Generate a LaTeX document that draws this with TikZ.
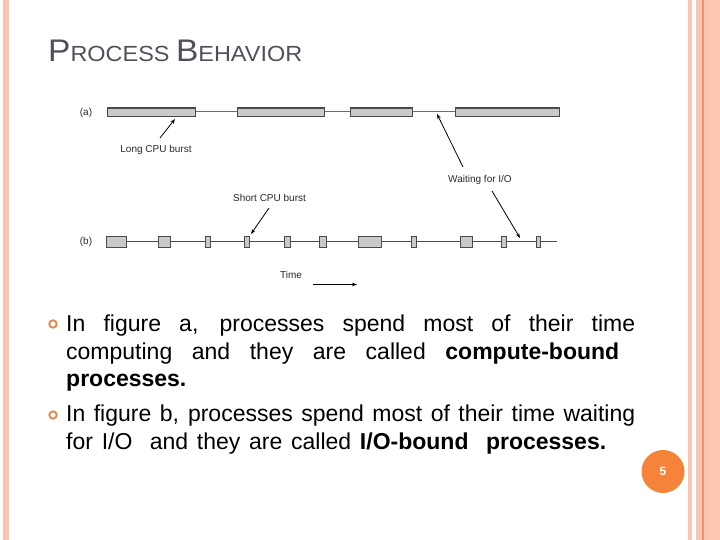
\documentclass[tikz,border=0pt]{standalone}
\usepackage{fontspec}
\setmainfont{Liberation Sans}
\usetikzlibrary{arrows.meta}
\definecolor{pinkb}{HTML}{F8C5B3}
\definecolor{pinkr}{HTML}{FCC6B2}
\definecolor{orangeline}{HTML}{EC9163}
\definecolor{orangec}{HTML}{F5843A}
\definecolor{titlec}{HTML}{4C515B}
\definecolor{bulletc}{HTML}{E38A4C}
\definecolor{barfill}{HTML}{C9C9C9}
\definecolor{bardraw}{HTML}{4A4A4A}
\definecolor{figtext}{HTML}{2A2A2A}
\tikzset{
  figlabel/.style={inner sep=0pt, text=figtext, font=\fontsize{10}{12}\selectfont},
  bodyline/.style={anchor=base west, inner sep=0pt, font=\fontsize{23}{27}\selectfont, text=black},
  burst/.style={fill=barfill, draw=bardraw, line width=0.6pt},
  pointer/.style={draw=black, line width=0.8pt, -{Stealth[length=5pt,width=3.6pt]}},
  bulletring/.style={draw=bulletc, line width=1.9pt},
}
\begin{document}
\begin{tikzpicture}[x=1pt,y=-1pt]
\useasboundingbox (0,0) rectangle (720,540);
\fill[white] (0,0) rectangle (720,540);
% borders
\fill[pinkb] (3,0) rectangle (8.5,540);
\fill[pinkb] (688,0) rectangle (692,540);
\fill[pinkb] (696,0) rectangle (702,540);
\fill[orangeline] (702,0) rectangle (703.5,540);
\fill[pinkb] (703.5,0) rectangle (708,540);
\fill[pinkr] (708,0) rectangle (720,540);

% title
\node[anchor=base west, inner sep=0pt, text=titlec] (title) at (48,62)
  {\resizebox{254pt}{21.5pt}{\fontsize{30}{30}\selectfont P\fontsize{21}{21}\selectfont ROCESS \fontsize{30}{30}\selectfont B\fontsize{21}{21}\selectfont EHAVIOR}};

% ---------- figure (a)
\node[figlabel] (la) at (86,113) {(a)};
\draw[bardraw!80, line width=0.7pt] (195,111) -- (455,111);
\foreach \xa/\xb in {107.7/195, 237.3/324.3, 350.7/412.3, 455/559.3}{
  \draw[burst] (\xa,107.5) rectangle (\xb,116.5);
  \draw[bardraw, line width=1.6pt] (\xa,107.8) -- (\xb,107.8);
}
\node[figlabel] (long) at (156,150) {Long CPU burst};
\coordinate (longtail) at (160,138);
\coordinate (longtip) at (175,119);
\draw[pointer] (longtail) -- (longtip);

\node[figlabel] (wait) at (480,180) {Waiting for I/O};
\coordinate (waittailA) at (463,167);
\coordinate (waittipA) at (437,114);
\coordinate (waittailB) at (492,191);
\coordinate (waittipB) at (520,238);
\draw[pointer] (waittailA) -- (waittipA);
\draw[pointer] (waittailB) -- (waittipB);

% ---------- figure (b)
\node[figlabel] (lb) at (86,241.5) {(b)};
\draw[bardraw, line width=1.2pt] (106.7,241.8) -- (557,241.8);
\foreach \xa/\xb in {106.7/126, 158.3/170.5, 205/210, 244.3/249.3, 284.3/290.7, 319.3/326,
                     358.5/381.7, 411.7/416.3, 460.3/472.5, 500.8/506.7, 536/540.7}{
  \draw[burst] (\xa,236.5) rectangle (\xb,247.2);
}
\node[figlabel] (short) at (269.5,198) {Short CPU burst};
\coordinate (shorttail) at (269,208);
\coordinate (shorttip) at (251,234);
\draw[pointer] (shorttail) -- (shorttip);

\node[figlabel] (time) at (291,275) {Time};
\coordinate (timeA) at (313,284.5);
\coordinate (timeB) at (357,284.5);
\draw[pointer] (timeA) -- (timeB);

% ---------- bullets
\draw[bulletring] (53,324) circle (3.7pt);
\draw[bulletring] (53,415) circle (3.7pt);
\node[bodyline] (l1) at (66,331.5) {\makebox[569pt][s]{In figure a, processes spend most of their time}};
\node[bodyline] (l2) at (66,359) {\makebox[569pt][s]{computing and they are called \textbf{compute-bound}\hspace*{16pt}}};
\node[bodyline] (l3) at (66,386.5) {\textbf{processes.}};
\node[bodyline] (l4) at (66,421.5) {\makebox[569pt][s]{In figure b, processes spend most of their time waiting}};
\node[bodyline] (l5) at (66,449) {\makebox[540pt][s]{for I/O\ \ and they are called \textbf{I/O-bound\ \ processes.}}};

% ---------- page number
\fill[orangec] (663,471.5) circle (21.5pt);
\node[inner sep=0pt, text=white, font=\fontsize{12}{12}\selectfont\bfseries] (pnum) at (663,471.5) {5};
\end{tikzpicture}
\end{document}
